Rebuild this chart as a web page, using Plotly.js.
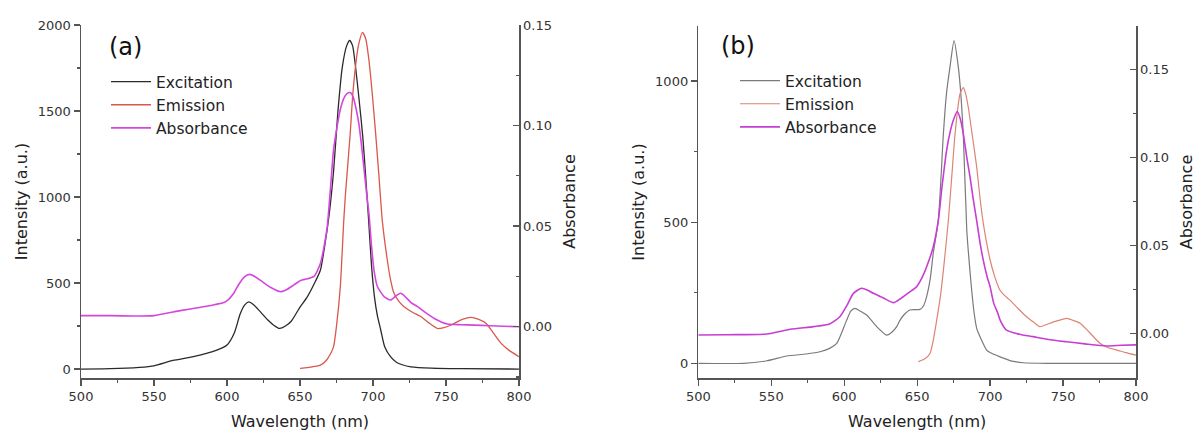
<!DOCTYPE html>
<html>
<head>
<meta charset="utf-8">
<script src="https://cdn.plot.ly/plotly-3.0.1.min.js"></script>
<style>html,body{margin:0;padding:0;background:#fff;}#chart{width:1199px;height:433px;}</style>
</head>
<body>
<div id="chart"></div>
<script>
// ---------- Panel (a) ----------
const excA_wl = [500,520,540,550,563,577,593,600,605,609,612,615,618,621,628,632,636,640,644,650,655,660,664,667,670,673,676,679,682,684,686,688,690.5,693,695,697,699,701,703,705.3,708,712,716,720,726,740,760,800];
const excA_val = [0,2,10,19,50,72,110,140,210,320,372,390,375,350,285,255,236,250,278,360,420,500,576,720,900,1150,1500,1757,1880,1910,1880,1760,1564,1350,1118,866,600,420,310,227,130,72,40,25,13,5,2,0];

const emA_wl = [650,655,660,664,668,671,673,675,677.6,680,681,684.4,686,688,690,692.8,695,697.2,699.5,701.8,704,706.4,709.8,712,714.4,718,721.3,727,733,738,744,748,753.5,760,767,772,777.5,782,787.8,793,800];
const emA_val = [4,8,15,23,50,90,130,250,478,866,1000,1370,1580,1758,1880,1957,1920,1797,1600,1370,1130,860,634,520,440,390,362,330,304,270,236,240,256,285,300,290,265,215,149,110,72];

const absA_wl = [500,520,540,550,568,582,590,597.8,601,604.6,608,612,615.4,619,623,630,636.7,641,645.7,650.4,655,659.6,662,664,666,668.7,671,673,675.5,677.6,680,682,684.4,686.5,688.5,690.3,692,693.7,695.5,697.2,699,700.7,703,707.6,712,716,719,722,726,730.5,736,742,751,760,769.5,780,790,800];
const absA_val = [0.0055,0.0055,0.0053,0.0055,0.008,0.0097,0.0107,0.012,0.0135,0.0166,0.021,0.0248,0.026,0.025,0.023,0.0195,0.0174,0.0185,0.0207,0.023,0.0238,0.025,0.028,0.0315,0.038,0.05,0.07,0.088,0.1,0.108,0.1135,0.1158,0.1164,0.114,0.108,0.101,0.091,0.0796,0.067,0.0564,0.04,0.028,0.02,0.015,0.0133,0.0155,0.0166,0.015,0.012,0.01,0.007,0.0041,0.0013,0.001,0.0008,0.0005,0.0002,0];

// ---------- Panel (b) ----------
const excB_wl = [500,531,547,560.6,574,583.4,590,594.9,598,601.7,604.5,607.4,611,615.4,622.3,629.1,633,636,638.3,641,645,652,654.5,656.5,659,661,664.5,668,670,672.5,675.3,678.2,680,681.6,684,685,687,689,691,693.1,697.6,700,706.8,715,722.8,740,760,800];
const excB_val = [0,0,9,26,33,41,53,71,105,153,185,195,185,171,130,100,112,130,153,172,189,191,205,236,300,389,507,814,950,1050,1143,1050,950,814,472,401,280,180,120,94,47,38,23,8,2,0,0,0];

const emB_wl = [650.8,655,658.8,661,663.4,666,668,671.4,674,676,679.4,681.6,683,685,688,690.8,693,695,697.5,700,703,706.8,710,713.6,719,725,730,734,741,747,752.5,757,761.7,768,775.3,781,787,793,800];
const emB_val = [6,15,35,80,153,240,330,507,680,814,955,977,960,908,800,696,590,507,430,366,310,259,240,224,195,165,145,130,142,152,159,152,142,110,71,55,47,38,29];

const absB_wl = [500,520,547,563,579,590,597,602,606.3,612,616,620,627,633.8,638.3,644,649.7,653,656.5,661,664.5,667,670.2,672.5,674.8,677.5,679.5,681.6,684,686.2,688.5,690.8,693,695.2,698,700,702.5,705.3,706.8,711,720,729.4,740,752.3,765,779.7,790,800];
const absB_val = [-0.001,-0.0008,-0.0004,0.0023,0.0038,0.0053,0.0094,0.016,0.0227,0.0256,0.0245,0.0227,0.02,0.0174,0.0195,0.023,0.0265,0.031,0.0378,0.049,0.064,0.083,0.104,0.114,0.121,0.126,0.122,0.1136,0.1,0.089,0.076,0.064,0.052,0.042,0.032,0.0265,0.017,0.0114,0.0076,0.002,-0.0005,-0.0019,-0.0035,-0.0048,-0.006,-0.0072,-0.0068,-0.0066];

const seriesNames = ['Excitation','Emission','Absorbance'];
const xTickVals = [500,550,600,650,700,750,800];

const FONT = 'DejaVu Sans, Arial, sans-serif';
const AX = '#555';
const TXT = '#333';

function ln(color, width) { return {color: color, width: width, shape: 'spline', smoothing: 0.6}; }

const traces = [
  {x: excA_wl, y: excA_val, name: seriesNames[0], type: 'scatter', mode: 'lines', xaxis: 'x', yaxis: 'y', line: ln('#2a2a2a', 1.3), legend: 'legend'},
  {x: emA_wl, y: emA_val, name: seriesNames[1], type: 'scatter', mode: 'lines', xaxis: 'x', yaxis: 'y', line: ln('#d9574c', 1.3), legend: 'legend'},
  {x: absA_wl, y: absA_val, name: seriesNames[2], type: 'scatter', mode: 'lines', xaxis: 'x', yaxis: 'y2', line: ln('#d447de', 1.6), legend: 'legend'},
  {x: excB_wl, y: excB_val, name: seriesNames[0], type: 'scatter', mode: 'lines', xaxis: 'x2', yaxis: 'y3', line: ln('#7a7a7a', 1.2), legend: 'legend2'},
  {x: emB_wl, y: emB_val, name: seriesNames[1], type: 'scatter', mode: 'lines', xaxis: 'x2', yaxis: 'y3', line: ln('#dc8474', 1.2), legend: 'legend2'},
  {x: absB_wl, y: absB_val, name: seriesNames[2], type: 'scatter', mode: 'lines', xaxis: 'x2', yaxis: 'y4', line: ln('#c73ed2', 1.6), legend: 'legend2'}
];

function xAxis(domain, anchor) {
  return {
    domain: domain, anchor: anchor, range: [500, 800], tickvals: xTickVals,
    showline: true, linecolor: AX, linewidth: 1.5, mirror: false,
    ticks: 'outside', ticklen: 6, tickwidth: 1.3, tickcolor: AX,
    minor: {dtick: 25, tick0: 500, ticks: 'outside', ticklen: 3, tickwidth: 1.2, tickcolor: AX, showgrid: false},
    showgrid: false, zeroline: false,
    tickfont: {family: FONT, size: 13, color: TXT},
    title: {text: 'Wavelength (nm)', font: {family: FONT, size: 16, color: '#222'}, standoff: 12}
  };
}
function yLeft(domain, anchor, range) {
  return {
    domain: domain, anchor: anchor, range: range, dtick: 500, tick0: 0,
    showline: true, linecolor: AX, linewidth: 1.5,
    ticks: 'outside', ticklen: 6, tickwidth: 1.3, tickcolor: AX,
    minor: {dtick: 250, tick0: 0, ticks: 'outside', ticklen: 3, tickwidth: 1.2, tickcolor: AX, showgrid: false},
    showgrid: false, zeroline: false,
    tickfont: {family: FONT, size: 13, color: TXT},
    title: {text: 'Intensity (a.u.)', font: {family: FONT, size: 16, color: '#222'}, standoff: 6}
  };
}
function yRight(overlay, anchor, range) {
  return {
    overlaying: overlay, side: 'right', anchor: anchor, range: range, dtick: 0.05, tick0: 0, tickformat: '.2f',
    showline: true, linecolor: AX, linewidth: 1.5,
    ticks: 'inside', ticklen: 6, tickwidth: 1.3, tickcolor: AX,
    minor: {dtick: 0.025, tick0: 0, ticks: 'inside', ticklen: 3, tickwidth: 1.2, tickcolor: AX, showgrid: false},
    showgrid: false, zeroline: false,
    tickfont: {family: FONT, size: 13, color: TXT},
    title: {text: 'Absorbance', font: {family: FONT, size: 16, color: '#222'}, standoff: 12}
  };
}

const legendBase = {
  xanchor: 'left', yanchor: 'top', bgcolor: 'rgba(0,0,0,0)', borderwidth: 0,
  font: {family: FONT, size: 15.5, color: '#222'}, tracegroupgap: 0, itemwidth: 40,
  itemclick: false, itemdoubleclick: false
};

const layout = {
  width: 1199, height: 433,
  margin: {l: 0, r: 0, t: 0, b: 0},
  paper_bgcolor: '#fff', plot_bgcolor: 'rgba(0,0,0,0)',
  showlegend: true,
  font: {family: FONT, color: TXT},
  xaxis: xAxis([81/1199, 519/1199], 'y'),
  yaxis: yLeft([55/433, 408/433], 'x', [-52, 2000]),
  yaxis2: yRight('y', 'x', [-0.0255, 0.15]),
  xaxis2: xAxis([698.3/1199, 1136/1199], 'y3'),
  yaxis3: yLeft([55/433, 407/433], 'x2', [-52, 1195]),
  yaxis4: yRight('y3', 'x2', [-0.0254, 0.1746]),
  legend: Object.assign({}, legendBase, {x: 106/1199, y: (433-65)/433}),
  legend2: Object.assign({}, legendBase, {x: 735/1199, y: (433-64)/433}),
  annotations: [
    {text: '(a)', xref: 'paper', yref: 'paper', x: 107/1199, y: (433-47)/433, xanchor: 'left', yanchor: 'middle', showarrow: false, font: {family: FONT, size: 24, color: '#111'}},
    {text: '(b)', xref: 'paper', yref: 'paper', x: 719/1199, y: (433-46)/433, xanchor: 'left', yanchor: 'middle', showarrow: false, font: {family: FONT, size: 24, color: '#111'}}
  ]
};

Plotly.newPlot('chart', traces, layout, {staticPlot: true, displayModeBar: false});
</script>
</body>
</html>
